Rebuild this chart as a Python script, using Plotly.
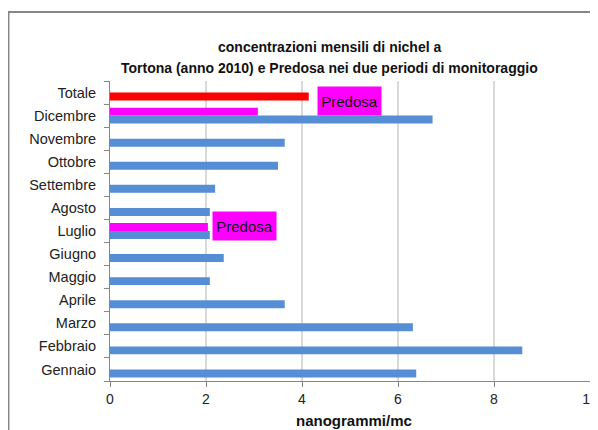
import plotly.graph_objects as go

months = ["Gennaio", "Febbraio", "Marzo", "Aprile", "Maggio", "Giugno", "Luglio",
          "Agosto", "Settembre", "Ottobre", "Novembre", "Dicembre", "Totale"]
tortona = [6.38, 8.59, 6.31, 3.64, 2.08, 2.37, 2.08, 2.08, 2.19, 3.50, 3.64, 6.72, None]
predosa = [None, None, None, None, None, None, 2.04, None, None, None, None, 3.08, None]
totale_cat = ["Totale"]
totale_val = [4.14]
x_ticks = [0, 2, 4, 6, 8, 10]

FONT = "Liberation Sans, Arial, sans-serif"

fig = go.Figure()
fig.add_trace(go.Bar(y=months, x=tortona, orientation="h", name="Tortona",
                     marker=dict(color="#558ED5", line=dict(width=0)), offsetgroup="a"))
fig.add_trace(go.Bar(y=months, x=predosa, orientation="h", name="Predosa",
                     marker=dict(color="#FF00FF", line=dict(width=0)), offsetgroup="b"))
fig.add_trace(go.Bar(y=totale_cat, x=totale_val, orientation="h", name="Totale",
                     marker=dict(color="#FF0000", line=dict(width=0)), offsetgroup="a"))

fig.update_layout(
    width=590, height=422,
    margin=dict(l=102, r=8, t=73, b=49, autoexpand=False),
    barmode="group", bargap=0.31, bargroupgap=0,
    plot_bgcolor="white", paper_bgcolor="white",
    showlegend=False,
    font=dict(family=FONT, size=14, color="#222222"),
    xaxis=dict(range=[0, 10], tickvals=x_ticks, ticktext=[str(v) for v in x_ticks],
               showgrid=True, gridcolor="#D9D9D9", gridwidth=1.5,
               showline=True, linecolor="#868686", linewidth=1,
               ticks="outside", ticklen=5, tickcolor="#868686", automargin=False,
               zeroline=False, tickfont=dict(size=14, color="#222222")),
    yaxis=dict(categoryorder="array", categoryarray=months, automargin=False,
               showgrid=False, showline=True, linecolor="#868686", linewidth=1,
               ticks="outside", ticklen=5, tickcolor="#868686", tickson="boundaries",
               tickfont=dict(size=14.5, color="#222222"), ticklabelstandoff=10),
)

annotations = [
    dict(text="<b>concentrazioni mensili di nichel a</b>", xref="paper", yref="paper",
         x=0.458, y=1.1135, xanchor="center", yanchor="middle", showarrow=False,
         font=dict(size=14, color="#111111")),
    dict(text="<b>Tortona (anno 2010) e Predosa nei due periodi di monitoraggio</b>",
         xref="paper", yref="paper", x=0.458, y=1.0434, xanchor="center", yanchor="middle",
         showarrow=False, font=dict(size=14, color="#111111")),
    dict(text="<b>nanogrammi/mc</b>", xref="paper", yref="paper", x=0.508, y=-0.131,
         xanchor="center", yanchor="middle", showarrow=False,
         font=dict(size=15, color="#111111")),
    dict(text="Predosa", xref="x", yref="paper", x=4.98, y=0.934, xanchor="center",
         yanchor="middle", showarrow=False, bgcolor="#FF00FF", width=59, height=24,
         borderpad=2, font=dict(size=15, color="#111111")),
    dict(text="Predosa", xref="x", yref="paper", x=2.8, y=0.518, xanchor="center",
         yanchor="middle", showarrow=False, bgcolor="#FF00FF", width=59, height=24,
         borderpad=2, font=dict(size=15, color="#111111")),
]
fig.update_layout(annotations=annotations)

fig.update_layout(shapes=[
    dict(type="rect", xref="paper", yref="paper", x0=-0.2115, y0=-0.4, x1=1.2, y1=1.230,
         line=dict(color="#868686", width=2), fillcolor="rgba(0,0,0,0)", layer="below"),
])

fig.write_html("out.html")
